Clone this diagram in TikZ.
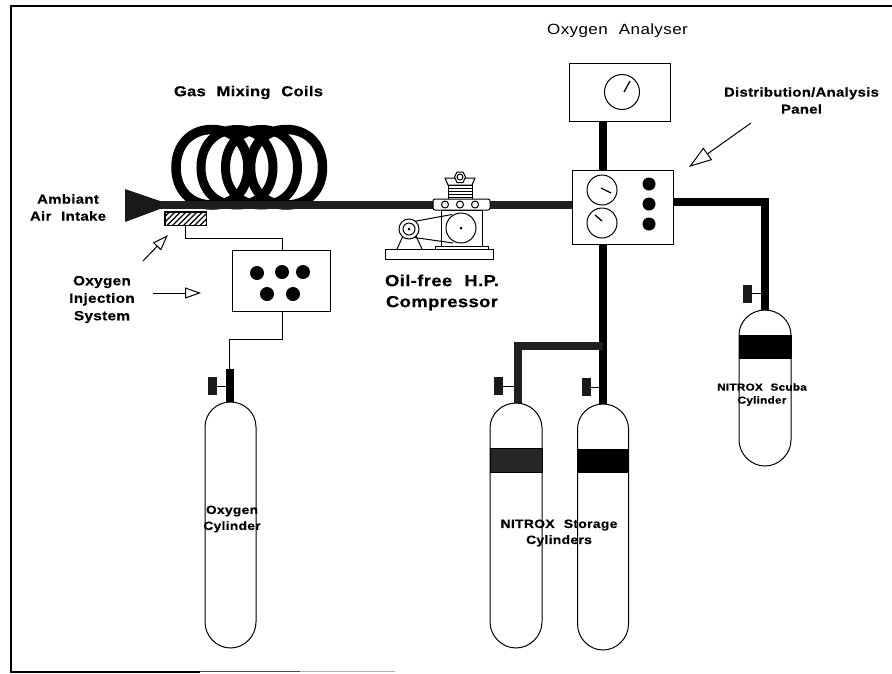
\documentclass[tikz,border=0pt]{standalone}
\usepackage{fontspec}
\usetikzlibrary{arrows.meta}
\newfontfamily\lab[FakeStretch=1.15,LetterSpace=2.5,WordSpace=2.2,BoldFeatures={FakeBold=0.5}]{Liberation Sans}
\newcommand\cylpath[5]{% cx, halfwidth, top, shoulder, bottom
  \draw[thinl,fill=white] (#1-#2,#4) .. controls (#1-#2,#4-14) and (#1-14,#3) .. (#1,#3)
    .. controls (#1+14,#3) and (#1+#2,#4-14) .. (#1+#2,#4)
    -- (#1+#2,#5-26) .. controls (#1+#2,#5-12) and (#1+14,#5) .. (#1,#5)
    .. controls (#1-14,#5) and (#1-#2,#5-12) .. (#1-#2,#5-26) -- cycle;}
\newcommand\coilring[3]{% cx, rx, line width
  \draw[line width=#3pt,black] (#1-#2,167.5) .. controls (#1-#2,145) and (#1-#2*0.6,129.5) .. (#1,129.5)
    .. controls (#1+#2*0.6,129.5) and (#1+#2,145) .. (#1+#2,167.5)
    .. controls (#1+#2,190) and (#1+#2*0.6,205) .. (#1,205)
    .. controls (#1-#2*0.6,205) and (#1-#2,190) .. (#1-#2,167.5) -- cycle;}
\tikzset{
  thinl/.style={line width=1pt,black},
  pipe/.style={line width=8pt,black,line join=miter},
  pipeg/.style={line width=8pt,black!88,line join=miter},
  boxn/.style={draw,line width=1pt,fill=white,inner sep=0pt,rectangle},
  gauge/.style={draw,circle,line width=1pt,fill=white,inner sep=0pt},
  dotn/.style={circle,fill=black,inner sep=0pt},
  needle/.style={line width=1.3pt},
  handle/.style={fill=black!90,inner sep=0pt,minimum width=9pt,minimum height=18pt,rectangle},
  band/.style={fill=black,draw=black,line width=.6pt,inner sep=0pt,rectangle},
  hollow/.style={line width=1pt,-{Triangle[open,length=16pt,width=11pt,fill=white]}},
  hollowb/.style={line width=1pt,-{Triangle[open,length=23pt,width=15pt,fill=white]}},
  txt/.style={inner sep=0pt,align=center},
  mach/.style={line width=1pt,fill=white},
}
\begin{document}
\begin{tikzpicture}[x=1pt,y=-1pt]
\useasboundingbox (0,0) rectangle (892,673);
% frame
\draw[line width=2pt] (892,5.5) -- (10.5,5.5) -- (10.5,671.5) -- (200,671.5);
\draw[line width=1.6pt,black!70] (200,671.5) -- (300,671.5);
\draw[line width=1.2pt,black!30] (300,671.5) -- (395,671.5);

% coils
\coilring{212}{36}{9.5}
\coilring{237}{36}{9}
\coilring{261.5}{36}{9}
\coilring{286.5}{36}{9.5}

% nodes: boxes
\node[boxn,minimum width=97.5pt,minimum height=61pt] (inj) at (281.3,280.5) {};
\node[boxn,minimum width=101pt,minimum height=58pt] (ana) at (619.5,92) {};
\node[boxn,minimum width=101pt,minimum height=74pt] (pan) at (622.5,207) {};
\node[boxn,minimum width=41pt,minimum height=13pt] (hat) at (185.5,218.5) {};
\begin{scope}
  \clip (hat.south west) rectangle (hat.north east);
  \foreach \x in {150,155.5,...,215}
    \draw[line width=1.3pt] (\x,226) -- (\x+14,212);
\end{scope}
\draw[line width=1pt] (hat.south west) rectangle (hat.north east);

% coordinates
\coordinate (intake) at (160,205);
\coordinate (inA) at (185,238);
\coordinate (inB) at (282,238);
\coordinate (o2A) at (282,339);
\coordinate (o2B) at (229,339);
\coordinate (o2C) at (229,369);
\coordinate (o2top) at (230,403);
\coordinate (o2stem) at (230,369);
\coordinate (s1top) at (517.5,404);
\coordinate (s2top) at (603,405);
\coordinate (sctop) at (765,311);
\coordinate (rbend) at (765,202);
\coordinate (bjoin) at (603,345.5);
\coordinate (bbend) at (517.5,345.5);

% pipes
\draw[pipeg] (intake) -- (pan.west |- intake);
\fill[black!90] (125,189) -- (160,201) -- (160,209) -- (125,222) -- cycle;
\draw[thinl] (hat.south -| inA) -- (inA) -- (inB) -- (inj.north -| inB);
\draw[thinl] (inj.south -| o2A) -- (o2A) -- (o2B) -- (o2C);
\draw[pipe] (o2stem) -- (o2top);
\draw[pipe] (ana.south -| 602.5,0) -- (pan.north -| 602.5,0);
\draw[pipe] (pan.south -| s2top) -- (s2top);
\draw[pipeg] (bjoin) -- (bbend) -- (s1top);
\draw[pipe] (pan.east |- rbend) -- (rbend) -- (sctop);

% boxes over pipes
\node[boxn,minimum width=101pt,minimum height=74pt] at (pan) {};
\node[boxn,minimum width=101pt,minimum height=58pt] at (ana) {};

% injection dots
\foreach \n/\x/\y in {a/257/273,b/282/272,c/303/272,d/267/294,e/293/294}
  \node[dotn,minimum size=14pt] (inj\n) at (\x,\y) {};

% gauges
\node[gauge,minimum size=35pt] (g0) at (622,92) {};
\draw[needle] (624,92) -- (630,81);
\node[gauge,minimum size=30pt] (g1) at (602,190) {};
\draw[needle] (601,188) -- (611,193);
\node[gauge,minimum size=30pt] (g2) at (602,223) {};
\draw[needle] (595,215) -- (602,221);
\foreach \n/\y in {a/184,b/204,c/224}
  \node[dotn,minimum size=13pt] (pd\n) at (649,\y) {};

% cylinders
\cylpath{230.5}{25.5}{402}{427}{648}
\cylpath{516}{26}{403}{428}{648}
\cylpath{603}{25.5}{404}{429}{650}
\cylpath{765}{26}{310}{335}{466}
\node[band,minimum width=52pt,minimum height=24pt,fill=black!85] (b1) at (516,460) {};
\node[band,minimum width=51pt,minimum height=23pt] (b2) at (603,460.5) {};
\node[band,minimum width=52pt,minimum height=23pt] (b3) at (765,346.5) {};

% valves
\node[handle] (h0) at (212.5,386) {};
\draw[thinl] (h0.east) -- (226,386);
\node[handle] (h1) at (498.5,386) {};
\draw[thinl] (h1.east) -- (514,386);
\node[handle] (h2) at (586,387) {};
\draw[thinl] (h2.east) -- (599,387);
\node[handle] (h3) at (747.5,293.5) {};
\draw[thinl] (h3.east) -- (761,293.5);

% compressor
\draw[mach] (441,210) rectangle (482,247);
\draw[mach] (448,185) rectangle (472,199);
\foreach \y in {188,191,194,197} \draw[line width=.9pt] (448,\y) -- (472,\y);
\draw[mach] (445,178) -- (475,178) -- (472,185) -- (448,185) -- cycle;
\draw[mach] (454.5,177) -- (457,172) -- (463,172) -- (465.5,177) -- (463,182.5) -- (457,182.5) -- cycle;
\draw[line width=1pt] (460,177) circle [radius=3];
\draw[mach,rounded corners=2pt] (433,199) rectangle (490,210);
\foreach \x in {445,460,475} \draw[mach] (\x,204.5) circle [radius=3.5];
\draw[mach] (397,249) -- (403,236) -- (416,236) -- (422,249);
\draw[line width=1pt] (411,222) -- (452,214.5);
\draw[line width=1pt] (411,237) -- (453,243);
\draw[mach] (461,228) circle [radius=15];
\fill (461,228) circle [radius=1.5];
\draw[mach] (402,222) rectangle (412,236);
\draw[mach] (409,229) circle [radius=10];
\draw[line width=1pt] (409,229) circle [radius=6];
\fill (409,229) circle [radius=1.5];
\draw[mach] (435,246) rectangle (488,249.5);
\draw[mach] (385,249.5) rectangle (493,259);

% arrows
\coordinate (a1s) at (143,261);
\coordinate (a1e) at (168,235);
\coordinate (a2s) at (153,293);
\coordinate (a2e) at (201,293);
\coordinate (a3s) at (751,123);
\coordinate (a3e) at (689,167);
\draw[hollow] (a1s) -- (a1e);
\draw[hollow] (a2s) -- (a2e);
\draw[hollowb] (a3s) -- (a3e);

% labels
\node[txt,font=\lab\bfseries\fontsize{14.3}{17}\selectfont] (tGas) at (248.5,92.5) {Gas Mixing Coils};
\node[txt,font=\lab\fontsize{14.8}{17}\selectfont] (tAna) at (617.5,31) {Oxygen Analyser};
\node[txt,font=\lab\bfseries\fontsize{12.9}{17}\selectfont] (tDist) at (801.5,100.5) {Distribution/Analysis\\Panel};
\node[txt,font=\lab\bfseries\fontsize{13}{17}\selectfont] (tAmb) at (68,207.5) {Ambiant\\Air Intake};
\node[txt,font=\lab\bfseries\fontsize{13.3}{17.5}\selectfont] (tInj) at (102,299.5) {Oxygen\\Injection\\System};
\node[txt,font=\lab\bfseries\fontsize{16}{21}\selectfont] (tOil) at (442,292.5) {Oil-free H.P.\\Compressor};
\node[txt,font=\lab\bfseries\fontsize{12.1}{16}\selectfont] (tSto) at (559,533) {NITROX Storage\\Cylinders};
\node[txt,font=\lab\bfseries\fontsize{10.2}{13}\selectfont] (tSc) at (762,394.5) {NITROX Scuba\\Cylinder};
\node[txt,font=\lab\bfseries\fontsize{12}{16}\selectfont] (tO2) at (232,519) {Oxygen\\Cylinder};
\end{tikzpicture}
\end{document}
